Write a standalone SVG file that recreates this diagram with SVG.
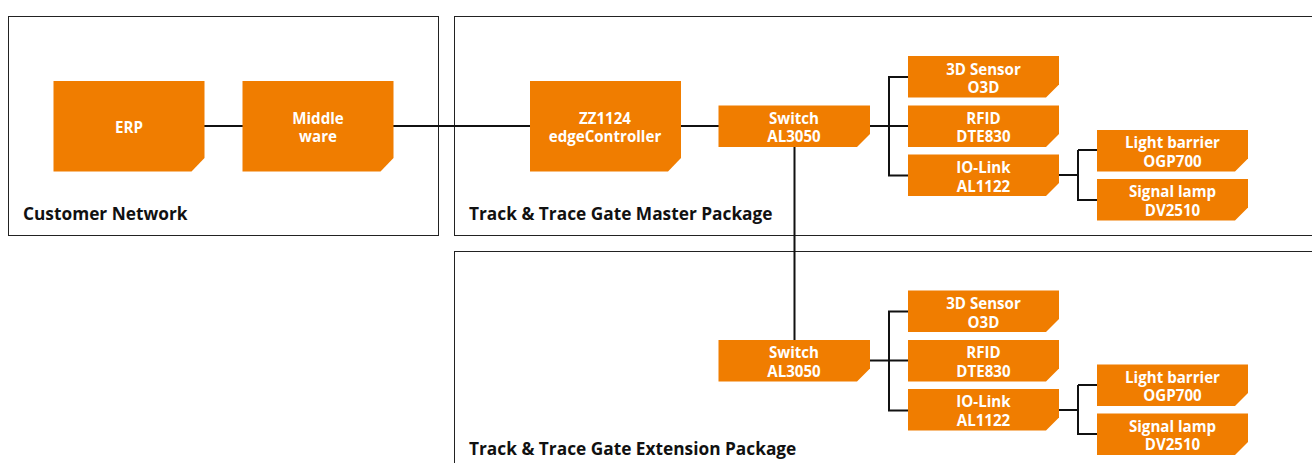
<svg xmlns="http://www.w3.org/2000/svg" width="1312" height="463" viewBox="0 0 1312 463">
<defs><style>
.panel{fill:#fff;stroke:#222;stroke-width:1}
.box{fill:#f07d00}
.wire{fill:none;stroke:#111;stroke-width:2}
text{font-family:"Open Sans","Noto Sans","Liberation Sans",sans-serif;font-weight:700}
.n{fill:#fff;font-size:15.100px;text-anchor:middle}
.t{fill:#111;font-size:17.300px}
</style>
<path id="big" d="M0 0H151V77L138 90.500H0Z"/>
<path id="small" d="M0 0H151V28.500L138 41.500H0Z"/>
<path id="small2" d="M0 0H151.500V28.500L138.500 41.500H0Z"/>
</defs>
<rect width="1312" height="463" fill="#fff"/>
<g id="panels">
<g id="customer-network"><rect class="panel" x="8.500" y="16.500" width="430" height="219"/><text class="t" x="23" y="219.500">Customer Network</text></g>
<g id="master-package"><rect class="panel" x="454.500" y="16.500" width="870" height="219"/><text class="t" x="469" y="219.500">Track &amp; Trace Gate Master Package</text></g>
<g id="extension-package"><rect class="panel" x="454.500" y="251.500" width="870" height="230"/><text class="t" x="469" y="454.500">Track &amp; Trace Gate Extension Package</text></g>
</g>
<g id="connectors" class="wire">
<path class="wire" d="M204 126H243M393 126H531M680 126H719M870 126H909M794.500 146V341M889 126V77H909M889 126V175.500H909M1059 175H1078M1078 150H1098M1078 150V200H1098"/>
<path class="wire" d="M870 360.500H909M889 360.500V311.500H909M889 360.500V410.500H909M1059 410H1078M1078 385H1098M1078 385V434H1098"/>
</g>
<g id="erp"><use class="box" href="#big" x="53.500" y="81"/><text class="n" x="129" y="133">ERP</text></g>
<g id="middleware"><use class="box" href="#big" x="242.500" y="81"/><text class="n" x="318" y="124">Middle</text><text class="n" x="318" y="142">ware</text></g>
<g id="zz1124"><use class="box" href="#big" x="530" y="81"/><text class="n" x="605" y="124">ZZ1124</text><text class="n" x="605" y="142">edgeController</text></g>
<g id="switch-1"><use class="box" href="#small2" x="718.500" y="105.500"/><text class="n" x="794" y="124">Switch</text><text class="n" x="794" y="142">AL3050</text></g>
<g id="sensor-1"><use class="box" href="#small" x="908" y="56"/><text class="n" x="983.500" y="75">3D Sensor</text><text class="n" x="983.500" y="93">O3D</text></g>
<g id="rfid-1"><use class="box" href="#small" x="908" y="105.500"/><text class="n" x="983.500" y="124">RFID</text><text class="n" x="983.500" y="142">DTE830</text></g>
<g id="iolink-1"><use class="box" href="#small" x="908" y="154.500"/><text class="n" x="983.500" y="173">IO-Link</text><text class="n" x="983.500" y="192">AL1122</text></g>
<g id="barrier-1"><use class="box" href="#small" x="1097" y="130"/><text class="n" x="1172.500" y="148">Light barrier</text><text class="n" x="1172.500" y="166.500">OGP700</text></g>
<g id="lamp-1"><use class="box" href="#small" x="1097" y="179"/><text class="n" x="1172.500" y="197">Signal lamp</text><text class="n" x="1172.500" y="216">DV2510</text></g>
<g id="switch-2"><use class="box" href="#small2" x="718.500" y="340"/><text class="n" x="794" y="358">Switch</text><text class="n" x="794" y="377">AL3050</text></g>
<g id="sensor-2"><use class="box" href="#small" x="908" y="290.500"/><text class="n" x="983.500" y="309">3D Sensor</text><text class="n" x="983.500" y="327.500">O3D</text></g>
<g id="rfid-2"><use class="box" href="#small" x="908" y="340"/><text class="n" x="983.500" y="358">RFID</text><text class="n" x="983.500" y="377">DTE830</text></g>
<g id="iolink-2"><use class="box" href="#small" x="908" y="389"/><text class="n" x="983.500" y="407">IO-Link</text><text class="n" x="983.500" y="426">AL1122</text></g>
<g id="barrier-2"><use class="box" href="#small" x="1097" y="364.500"/><text class="n" x="1172.500" y="383">Light barrier</text><text class="n" x="1172.500" y="401">OGP700</text></g>
<g id="lamp-2"><use class="box" href="#small" x="1097" y="413.500"/><text class="n" x="1172.500" y="432">Signal lamp</text><text class="n" x="1172.500" y="450">DV2510</text></g>
</svg>
